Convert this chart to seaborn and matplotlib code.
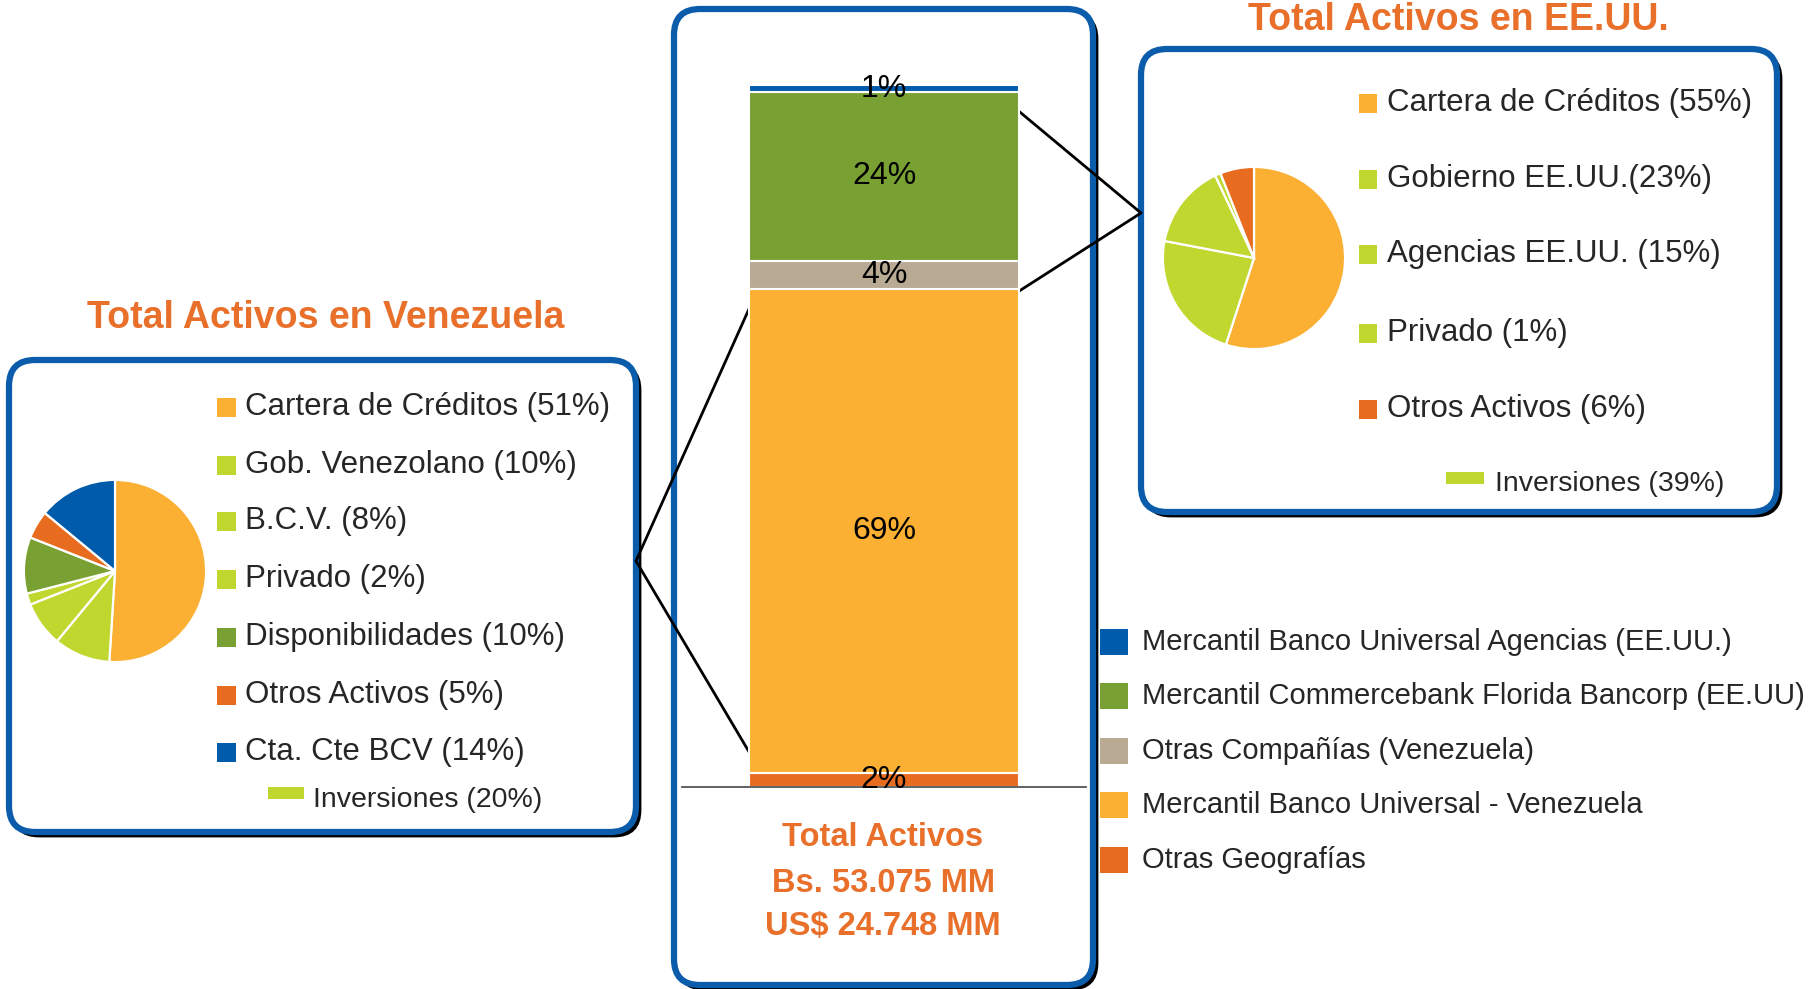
import numpy as np
import pandas as pd
import matplotlib
matplotlib.use("Agg")
import matplotlib.pyplot as plt
from matplotlib.patches import FancyBboxPatch, Rectangle
import seaborn as sns


# ── Data ──────────────────────────────────────────────────────────────────────

# Stacked bar, bottom to top
bar_labels = [
    "Otras Geografías",
    "Mercantil Banco Universal - Venezuela",
    "Otras Compañías (Venezuela)",
    "Mercantil Commercebank Florida Bancorp (EE.UU)",
    "Mercantil Banco Universal Agencias (EE.UU.)",
]
bar_pct = [2, 69, 4, 24, 1]
bar_colors = ["#E86C1F", "#FBB034", "#B9AA94", "#78A032", "#005BAA"]

ven_labels = ["Cartera de Créditos", "Gob. Venezolano", "B.C.V.", "Privado",
              "Disponibilidades", "Otros Activos", "Cta. Cte BCV"]
ven_pct = [51, 10, 8, 2, 10, 5, 14]
ven_colors = ["#FBB034", "#C0D72F", "#C0D72F", "#C0D72F", "#78A032", "#E86C1F", "#005BAA"]
ven_inversiones = 20

us_labels = ["Cartera de Créditos", "Gobierno EE.UU.", "Agencias EE.UU.", "Privado", "Otros Activos"]
us_pct = [55, 23, 15, 1, 6]
us_colors = ["#FBB034", "#C0D72F", "#C0D72F", "#C0D72F", "#E86C1F"]
us_inversiones = 39

total_lines = ["Total Activos", "Bs. 53.075 MM", "US$ 24.748 MM"]

ORANGE_TXT = "#E8702A"
BLUE_BOX = "#0B5CAB"
W, H = 1814, 989


# ── Helpers ───────────────────────────────────────────────────────────────────

def px_axes(fig, x0, y0, x1, y1, **kw):
    """Add axes from pixel box (top-left origin)."""
    return fig.add_axes([x0 / W, 1 - y1 / H, (x1 - x0) / W, (y1 - y0) / H], **kw)


def draw_box(ax, x0, y0, x1, y1):
    r = 26
    shadow = FancyBboxPatch((x0 + 4, y0 + 4), x1 - x0, y1 - y0,
                            boxstyle=f"round,pad=0,rounding_size={r}",
                            facecolor="black", edgecolor="black", lw=2, zorder=1)
    box = FancyBboxPatch((x0, y0), x1 - x0, y1 - y0,
                         boxstyle=f"round,pad=0,rounding_size={r}",
                         facecolor="white", edgecolor=BLUE_BOX, lw=4.5, zorder=2)
    ax.add_patch(shadow)
    ax.add_patch(box)


def draw_pie(fig, cx, cy, r, values, colors):
    ax = px_axes(fig, cx - r, cy - r, cx + r, cy + r)
    ax.set_facecolor("none")
    ax.pie(values, colors=colors, startangle=90, counterclock=False, radius=1,
           wedgeprops=dict(edgecolor="white", linewidth=1.6))
    ax.set_xlim(-1.01, 1.01)
    ax.set_ylim(-1.01, 1.01)
    ax.set_aspect("equal")
    ax.axis("off")


# ── Figure ────────────────────────────────────────────────────────────────────

sns.set_theme(style="white")
plt.rcParams["font.family"] = ["Liberation Sans", "DejaVu Sans"]

fig = plt.figure(figsize=(W / 100, H / 100), dpi=100)
fig.patch.set_facecolor("white")

bg = fig.add_axes([0, 0, 1, 1])
bg.set_xlim(0, W)
bg.set_ylim(H, 0)
bg.axis("off")

# Boxes
draw_box(bg, 9, 360, 636, 832)
draw_box(bg, 674, 9, 1093, 985)
draw_box(bg, 1141, 49, 1777, 512)

# Titles
bg.text(326, 328, "Total Activos en Venezuela", color=ORANGE_TXT, fontsize=27,
        fontweight="bold", ha="center", va="baseline", zorder=5)
bg.text(1458, 30, "Total Activos en EE.UU.", color=ORANGE_TXT, fontsize=27,
        fontweight="bold", ha="center", va="baseline", zorder=5)

# Connecting lines
for (xa, ya), (xb, yb) in [((1015, 108), (1141, 213)), ((1013, 295), (1141, 213)),
                           ((753, 300), (636, 561)), ((758, 767), (636, 561))]:
    bg.plot([xa, xb], [ya, yb], color="black", lw=2, zorder=6)

# Venezuela legend
ven_y = [407, 465, 521, 579, 637, 695, 752]
for lab, val, col, y in zip(ven_labels, ven_pct, ven_colors, ven_y):
    bg.add_patch(Rectangle((217, y - 9), 19, 19, facecolor=col, edgecolor="none", zorder=5))
    bg.text(245, y, f"{lab} ({val}%)", fontsize=22.5, va="center", ha="left", zorder=5)
bg.add_patch(Rectangle((268, 787), 36, 12, facecolor="#C0D72F", edgecolor="none", zorder=5))
bg.text(313, 800, f"Inversiones ({ven_inversiones}%)", fontsize=20.5, va="center", ha="left", zorder=5)

# US legend
us_text = [f"{us_labels[0]} ({us_pct[0]}%)", f"{us_labels[1]}({us_pct[1]}%)",
           f"{us_labels[2]} ({us_pct[2]}%)", f"{us_labels[3]} ({us_pct[3]}%)",
           f"{us_labels[4]} ({us_pct[4]}%)"]
us_y = [103, 179, 254, 333, 409]
for txt, col, y in zip(us_text, us_colors, us_y):
    bg.add_patch(Rectangle((1359, y - 9), 18, 19, facecolor=col, edgecolor="none", zorder=5))
    bg.text(1387, y, txt, fontsize=22.5, va="center", ha="left", zorder=5)
bg.add_patch(Rectangle((1446, 472), 38, 12, facecolor="#C0D72F", edgecolor="none", zorder=5))
bg.text(1495, 484, f"Inversiones ({us_inversiones}%)", fontsize=20.5, va="center", ha="left", zorder=5)

# Bar legend (top to bottom)
leg_y = [642, 696, 751, 805, 860]
for lab, col, y in zip(bar_labels[::-1], bar_colors[::-1], leg_y):
    bg.add_patch(Rectangle((1100, y - 13), 28, 26, facecolor=col, edgecolor="none", zorder=5))
    bg.text(1142, y, lab, fontsize=21, va="center", ha="left", zorder=5)

# Total text
for txt, y in zip(total_lines, [838, 883, 926]):
    bg.text(883, y, txt, color=ORANGE_TXT, fontsize=23.5, fontweight="bold",
            ha="center", va="center", zorder=5)

# ── Stacked bar ───────────────────────────────────────────────────────────────

bar_ax = px_axes(fig, 682, 85, 1086, 787)
bar_ax.set_facecolor("none")
bottoms = np.concatenate([[0], np.cumsum(bar_pct)[:-1]])
for lab, val, bot, col in zip(bar_labels, bar_pct, bottoms, bar_colors):
    df = pd.DataFrame({"grupo": ["Total"], "pct": [val]})
    sns.barplot(data=df, x="grupo", y="pct", bottom=bot, color=col, width=1.0,
                edgecolor="white", linewidth=1.5, saturation=1, ax=bar_ax)
    bar_ax.text(0, bot + val / 2, f"{val}%", fontsize=23, ha="center", va="center",
                color="black", zorder=10)
bar_ax.set_xlim(-0.75, 0.75)
bar_ax.set_ylim(0, 100)
bar_ax.set_xticks([])
bar_ax.set_yticks([])
bar_ax.set_xlabel("")
bar_ax.set_ylabel("")
for side in ["top", "left", "right"]:
    bar_ax.spines[side].set_visible(False)
bar_ax.spines["bottom"].set_color("#555555")
bar_ax.spines["bottom"].set_linewidth(1.3)

# ── Pies ──────────────────────────────────────────────────────────────────────

draw_pie(fig, 115, 571, 92, ven_pct, ven_colors)
draw_pie(fig, 1254, 258, 92, us_pct, us_colors)

fig.savefig("out.png", dpi=100)
